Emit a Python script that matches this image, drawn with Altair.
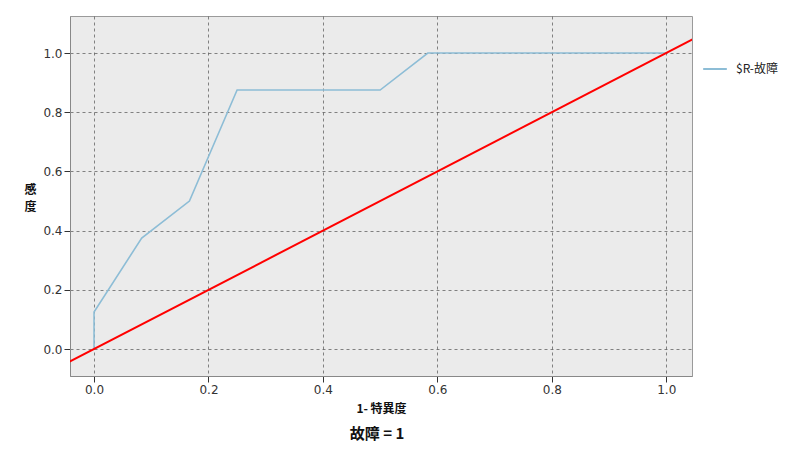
import pandas as pd
import altair as alt

# Curva ROC
fpr = [0.0, 0.0, 0.0833, 0.1667, 0.25, 0.5, 0.5833, 1.0]
tpr = [0.0, 0.125, 0.375, 0.5, 0.875, 0.875, 1.0, 1.0]
serie = ['$R-故障'] * len(fpr)

# Linha de referência (diagonal)
ref_x = [-0.1, 1.1]
ref_y = [-0.1, 1.1]

ticks = [0.0, 0.2, 0.4, 0.6, 0.8, 1.0]

roc_df = pd.DataFrame({'fpr': fpr, 'tpr': tpr, 'serie': serie, 'ordem': list(range(len(fpr)))})
ref_df = pd.DataFrame({'x': ref_x, 'y': ref_y})

x_scale = alt.Scale(domain=[-0.042, 1.045], nice=False, zero=False)
y_scale = alt.Scale(domain=[-0.091, 1.125], nice=False, zero=False)

x_axis = alt.Axis(values=ticks, format='.1f', title='1- 特異度', grid=True,
                  titleFont='Noto Sans CJK JP', titleFontWeight='bold', titleFontSize=12,
                  titlePadding=8)
y_axis = alt.Axis(values=ticks, format='.1f', title=['感', '度'], grid=True,
                  titleAngle=0, titleFont='Noto Sans CJK JP', titleFontWeight='bold',
                  titleFontSize=12, titleX=-40, titleY=180, titleLineHeight=17)

roc = alt.Chart(roc_df).mark_line(strokeWidth=1.6).encode(
    x=alt.X('fpr:Q', scale=x_scale, axis=x_axis),
    y=alt.Y('tpr:Q', scale=y_scale, axis=y_axis),
    order='ordem:Q',
    color=alt.Color('serie:N', scale=alt.Scale(domain=['$R-故障'], range=['#8dbdd6']),
                    legend=alt.Legend(title=None, orient='none', legendX=632, legendY=40,
                                      symbolType='stroke', symbolSize=560, symbolStrokeWidth=2,
                                      labelOffset=8,
                                      labelFont='Noto Sans CJK JP', labelFontSize=12,
                                      labelColor='#222'))
)

ref = alt.Chart(ref_df).mark_line(color='#ff0000', strokeWidth=2, clip=True).encode(
    x=alt.X('x:Q', scale=x_scale, axis=x_axis),
    y=alt.Y('y:Q', scale=y_scale, axis=y_axis)
)

chart = alt.layer(roc, ref).properties(
    width=622,
    height=360,
    autosize=alt.AutoSizeParams(type='none'),
    padding={'left': 62, 'top': 8, 'right': 100, 'bottom': 70},
    title=alt.TitleParams('故障 = 1', orient='bottom', font='Noto Sans CJK JP',
                          fontSize=15, fontWeight='bold', color='#111', offset=13, dx=-4)
).configure_view(
    fill='#ebebeb', stroke='#9a9a9a', strokeWidth=1
).configure_axis(
    gridColor='#555', gridDash=[3, 3], gridOpacity=0.9, gridWidth=0.8,
    domainColor='#888', tickColor='#333', tickSize=6,
    labelFont='DejaVu Sans', labelFontSize=12, labelColor='#333', titleColor='#111'
)

chart.save("out.html", embed_options={"renderer": "svg", "actions": False})
